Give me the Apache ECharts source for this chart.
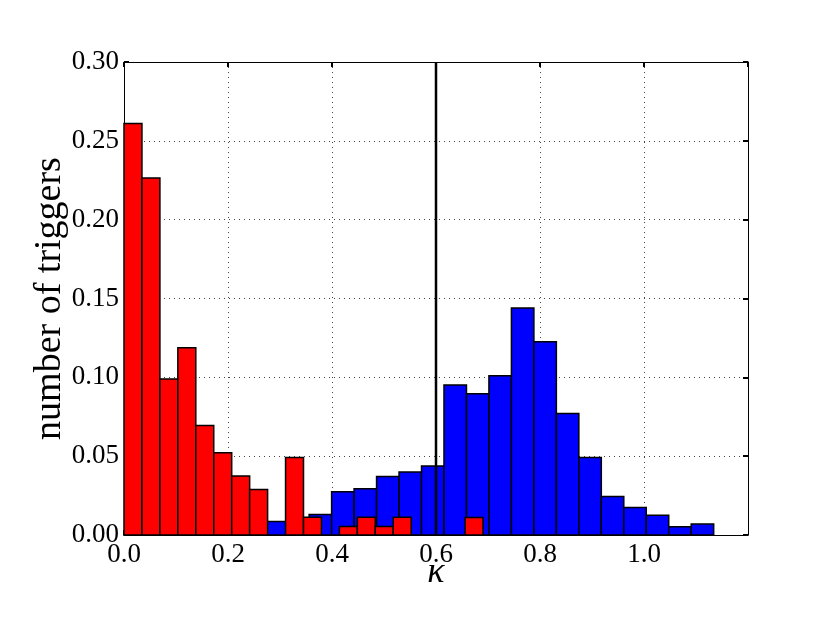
<!DOCTYPE html>
<html>
<head>
<meta charset="utf-8">
<script src="https://cdn.jsdelivr.net/npm/echarts@6/dist/echarts.min.js"></script>
<style>
html, body { margin: 0; padding: 0; background: #fff; }
#main { width: 830px; height: 623px; }
</style>
</head>
<body>
<div id="main"></div>
<script>
// histogram of kappa, red and blue populations
var redStart = 0.0;
var redWidth = 0.03452;
var redCounts = [0.261, 0.2265, 0.099, 0.1188, 0.0695, 0.0522, 0.0374, 0.0289, 0, 0.0492,
                 0.0113, 0, 0.0054, 0.0113, 0.0054, 0.0113, 0, 0, 0, 0.0111];

var blueStart = 0.2696;
var blueWidth = 0.04322;
var blueCounts = [0.0086, 0, 0.013, 0.0274, 0.0293, 0.0371, 0.0399, 0.0437, 0.0951, 0.0896,
                  0.101, 0.144, 0.1226, 0.0771, 0.0492, 0.0244, 0.0175, 0.0126, 0.0052, 0.0069];

var threshold = 0.6;

var xTicks = [0.0, 0.2, 0.4, 0.6, 0.8, 1.0, 1.2];
var yTicks = [0.00, 0.05, 0.10, 0.15, 0.20, 0.25, 0.30];

var FONT = 'Liberation Serif';

function bins(start, width, counts) {
  var out = [];
  for (var i = 0; i < counts.length; i++) {
    out.push([start + i * width, start + (i + 1) * width, counts[i]]);
  }
  return out;
}

function barRenderer(color) {
  return function (params, api) {
    var h = api.value(2);
    if (!h) return null;
    var p0 = api.coord([api.value(0), h]);
    var p1 = api.coord([api.value(1), 0]);
    return {
      type: 'rect',
      shape: { x: p0[0], y: p0[1], width: p1[0] - p0[0], height: p1[1] - p0[1] },
      style: { fill: color, stroke: '#000', lineWidth: 1.5 }
    };
  };
}

var tickStyle = { show: true, inside: true, length: 5, lineStyle: { color: '#000', width: 2 } };
var lineStyle = { show: true, onZero: false, lineStyle: { color: '#000', width: 1 } };
var gridStyle = { show: true, lineStyle: { color: '#444', width: 1, type: [1, 4] } };

var chart = echarts.init(document.getElementById('main'));

var option = {
  animation: false,
  backgroundColor: '#fff',
  grid: { left: 124, right: 82, top: 62, bottom: 88 },
  xAxis: [
    {
      type: 'value',
      min: xTicks[0],
      max: xTicks[xTicks.length - 1],
      interval: 0.2,
      position: 'bottom',
      axisLine: lineStyle,
      axisTick: tickStyle,
      splitLine: gridStyle,
      axisLabel: {
        showMaxLabel: false,
        margin: 6,
        fontFamily: FONT,
        fontSize: 27,
        color: '#000',
        formatter: function (v) { return v.toFixed(1); }
      },
      name: 'κ',
      nameLocation: 'middle',
      nameGap: 20,
      nameMoveOverlap: false,
      nameTextStyle: { fontFamily: FONT, fontStyle: 'italic', fontSize: 36, color: '#000' }
    },
    {
      type: 'value',
      min: xTicks[0],
      max: xTicks[xTicks.length - 1],
      interval: 0.2,
      position: 'top',
      axisLine: lineStyle,
      axisTick: tickStyle,
      splitLine: { show: false },
      axisLabel: { show: false }
    }
  ],
  yAxis: [
    {
      type: 'value',
      min: yTicks[0],
      max: yTicks[yTicks.length - 1],
      interval: 0.05,
      position: 'left',
      axisLine: lineStyle,
      axisTick: tickStyle,
      splitLine: gridStyle,
      axisLabel: {
        margin: 5,
        fontFamily: FONT,
        fontSize: 27,
        color: '#000',
        formatter: function (v) { return v.toFixed(2); }
      },
      name: 'number of triggers',
      nameLocation: 'middle',
      nameGap: 55,
      nameMoveOverlap: false,
      nameTextStyle: { fontFamily: FONT, fontSize: 38, color: '#000' }
    },
    {
      type: 'value',
      min: yTicks[0],
      max: yTicks[yTicks.length - 1],
      interval: 0.05,
      position: 'right',
      axisLine: lineStyle,
      axisTick: tickStyle,
      splitLine: { show: false },
      axisLabel: { show: false }
    }
  ],
  series: [
    {
      name: 'blue',
      type: 'custom',
      z: 2,
      renderItem: barRenderer('#0000ff'),
      encode: { x: [0, 1], y: 2 },
      data: bins(blueStart, blueWidth, blueCounts)
    },
    {
      name: 'red',
      type: 'custom',
      z: 3,
      renderItem: barRenderer('#ff0000'),
      encode: { x: [0, 1], y: 2 },
      data: bins(redStart, redWidth, redCounts)
    },
    {
      name: 'threshold',
      type: 'line',
      z: 4,
      symbol: 'none',
      lineStyle: { color: '#000', width: 2.5 },
      data: [[threshold, yTicks[0]], [threshold, yTicks[yTicks.length - 1]]]
    }
  ]
};

chart.setOption(option);
</script>
</body>
</html>
